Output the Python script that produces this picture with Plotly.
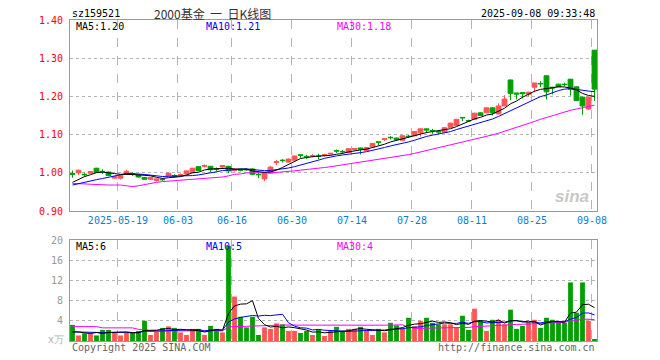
import plotly.graph_objects as go
import pandas as pd

# ---------------- data ----------------
dates = [
    "2025-05-07", "2025-05-08", "2025-05-09", "2025-05-12", "2025-05-13", "2025-05-14",
    "2025-05-15", "2025-05-16", "2025-05-19", "2025-05-20", "2025-05-21", "2025-05-22",
    "2025-05-23", "2025-05-26", "2025-05-27", "2025-05-28", "2025-05-29", "2025-05-30",
    "2025-06-03", "2025-06-04", "2025-06-05", "2025-06-06", "2025-06-09", "2025-06-10",
    "2025-06-11", "2025-06-12", "2025-06-13", "2025-06-16", "2025-06-17", "2025-06-18",
    "2025-06-19", "2025-06-20", "2025-06-23", "2025-06-24", "2025-06-25", "2025-06-26",
    "2025-06-27", "2025-06-30", "2025-07-01", "2025-07-02", "2025-07-03", "2025-07-04",
    "2025-07-07", "2025-07-08", "2025-07-09", "2025-07-10", "2025-07-11", "2025-07-14",
    "2025-07-15", "2025-07-16", "2025-07-17", "2025-07-18", "2025-07-21", "2025-07-22",
    "2025-07-23", "2025-07-24", "2025-07-25", "2025-07-28", "2025-07-29", "2025-07-30",
    "2025-07-31", "2025-08-01", "2025-08-04", "2025-08-05", "2025-08-06", "2025-08-07",
    "2025-08-08", "2025-08-11", "2025-08-12", "2025-08-13", "2025-08-14", "2025-08-15",
    "2025-08-18", "2025-08-19", "2025-08-20", "2025-08-21", "2025-08-22", "2025-08-25",
    "2025-08-26", "2025-08-27", "2025-08-28", "2025-08-29", "2025-09-01", "2025-09-02",
    "2025-09-03", "2025-09-04", "2025-09-05", "2025-09-08",
]

open_ = [
    0.998, 1.000, 0.996, 0.999, 1.012, 1.004, 1.002, 0.986, 0.986, 0.998,
    0.998, 0.994, 0.988, 0.983, 0.980, 0.983, 0.992, 0.993, 0.994, 0.997,
    1.000, 1.016, 1.017, 1.017, 1.010, 1.015, 1.017, 1.006, 1.008, 1.009,
    1.010, 0.996, 0.984, 0.999, 1.027, 1.033, 1.028, 1.033, 1.047, 1.043,
    1.044, 1.044, 1.046, 1.049, 1.058, 1.056, 1.053, 1.061, 1.065, 1.058,
    1.068, 1.081, 1.087, 1.093, 1.091, 1.085, 1.096, 1.097, 1.104, 1.115,
    1.111, 1.108, 1.106, 1.119, 1.124, 1.145, 1.137, 1.140, 1.157, 1.157,
    1.170, 1.154, 1.175, 1.243, 1.209, 1.210, 1.206, 1.224, 1.234, 1.254,
    1.224, 1.232, 1.232, 1.245, 1.225, 1.198, 1.167, 1.321,
]
high = [
    1.006, 1.008, 1.000, 1.004, 1.013, 1.009, 1.003, 0.991, 0.994, 1.008,
    1.001, 0.995, 0.989, 0.989, 0.985, 0.986, 1.000, 0.996, 0.998, 1.006,
    1.013, 1.017, 1.022, 1.018, 1.014, 1.020, 1.018, 1.012, 1.010, 1.011,
    1.012, 1.000, 1.000, 1.018, 1.034, 1.036, 1.037, 1.045, 1.047, 1.047,
    1.049, 1.050, 1.050, 1.052, 1.061, 1.060, 1.064, 1.063, 1.066, 1.067,
    1.078, 1.081, 1.089, 1.096, 1.092, 1.098, 1.099, 1.109, 1.116, 1.116,
    1.115, 1.108, 1.119, 1.131, 1.141, 1.146, 1.139, 1.157, 1.158, 1.171,
    1.172, 1.182, 1.203, 1.244, 1.209, 1.211, 1.212, 1.236, 1.240, 1.255,
    1.225, 1.233, 1.236, 1.246, 1.226, 1.199, 1.199, 1.322,
]
low = [
    0.987, 0.994, 0.990, 0.998, 1.000, 0.997, 0.991, 0.985, 0.982, 0.997,
    0.992, 0.987, 0.982, 0.981, 0.977, 0.979, 0.991, 0.988, 0.991, 0.996,
    0.999, 1.004, 1.014, 1.001, 1.004, 1.013, 0.999, 1.003, 1.004, 1.005,
    0.994, 0.986, 0.978, 0.997, 1.020, 1.027, 1.027, 1.032, 1.039, 1.036,
    1.041, 1.035, 1.042, 1.047, 1.052, 1.050, 1.052, 1.058, 1.048, 1.057,
    1.067, 1.072, 1.083, 1.087, 1.085, 1.084, 1.091, 1.096, 1.095, 1.104,
    1.102, 1.102, 1.105, 1.118, 1.123, 1.135, 1.133, 1.139, 1.149, 1.156,
    1.150, 1.153, 1.174, 1.190, 1.192, 1.195, 1.200, 1.211, 1.224, 1.192,
    1.205, 1.224, 1.226, 1.202, 1.188, 1.152, 1.164, 1.188,
]
close = [
    0.996, 1.007, 0.995, 1.003, 1.001, 1.003, 0.993, 0.990, 0.993, 1.004,
    0.997, 0.989, 0.983, 0.988, 0.984, 0.982, 0.999, 0.990, 0.995, 1.005,
    1.012, 1.006, 1.019, 1.008, 1.009, 1.019, 1.005, 1.009, 1.007, 1.008,
    0.996, 0.995, 0.999, 1.015, 1.029, 1.032, 1.036, 1.044, 1.046, 1.042,
    1.045, 1.043, 1.047, 1.051, 1.057, 1.055, 1.063, 1.063, 1.062, 1.066,
    1.077, 1.080, 1.089, 1.092, 1.087, 1.097, 1.095, 1.108, 1.115, 1.112,
    1.110, 1.107, 1.118, 1.130, 1.140, 1.144, 1.136, 1.156, 1.150, 1.170,
    1.157, 1.175, 1.193, 1.208, 1.206, 1.207, 1.211, 1.235, 1.233, 1.212,
    1.222, 1.225, 1.231, 1.219, 1.189, 1.175, 1.198, 1.219,
]
volume = [  # 万
    3.2, 1.1, 1.5, 1.5, 1.1, 2.2, 2.2, 1.7, 1.1, 1.7,
    1.7, 2.0, 4.0, 1.2, 1.8, 2.6, 2.9, 2.6, 1.7, 1.2,
    2.4, 2.4, 1.2, 3.0, 2.4, 1.7, 18.8, 8.8, 4.8, 2.7,
    4.8, 1.2, 2.7, 2.4, 3.5, 3.3, 2.0, 2.0, 1.6, 2.0,
    1.2, 2.3, 1.0, 2.0, 2.8, 1.9, 2.4, 2.4, 2.8, 2.1,
    1.2, 2.4, 1.7, 3.6, 3.1, 2.5, 4.6, 2.9, 4.0, 4.6,
    3.6, 3.3, 3.3, 3.3, 2.7, 5.0, 2.2, 6.4, 4.0, 2.0,
    4.2, 4.2, 3.3, 6.2, 2.4, 3.0, 3.6, 4.2, 2.6, 4.6,
    4.2, 3.6, 3.6, 11.6, 5.6, 11.6, 4.0, 0.2,
]

# moving-average values at the start of the window (need sessions before the
# first visible day)
price_ma5_head = [0.975, 0.983, 0.990, 0.995]
price_ma10_head = [0.968, 0.972, 0.976, 0.979, 0.982, 0.985, 0.989, 0.993, 0.995]
price_ma30_head = [
    0.972, 0.972, 0.971, 0.970, 0.969, 0.968, 0.968, 0.968, 0.968, 0.966,
    0.964, 0.966, 0.969, 0.973, 0.975, 0.977, 0.978, 0.979, 0.980, 0.981,
    0.982, 0.983, 0.984, 0.986, 0.988, 0.989, 0.992, 0.996, 0.997,
]
vol_ma5_head = [1.8, 1.8, 1.6, 1.5]
vol_ma10_head = [1.8, 1.75, 1.7, 1.7, 1.65, 1.65, 1.65, 1.7, 1.7]
vol_ma30_head = [
    2.85, 2.85, 2.85, 2.85, 2.85, 2.6, 2.6, 2.6, 2.6, 2.6,
    2.6, 2.3, 2.3, 2.0, 2.0, 2.0, 2.0, 2.0, 2.0, 2.0,
    2.0, 2.0, 2.0, 2.0, 2.0, 2.0, 2.8, 2.8, 2.8,
]

tick_dates = ["2025-05-19", "2025-06-03", "2025-06-16", "2025-06-30", "2025-07-14",
              "2025-07-28", "2025-08-11", "2025-08-25", "2025-09-08"]
tick_labels = ["2025-05-19", "06-03", "06-16", "06-30", "07-14",
               "07-28", "08-11", "08-25", "09-08"]
price_ticks = [0.90, 1.00, 1.10, 1.20, 1.30, 1.40]
vol_ticks = [4, 8, 12, 16, 20]


def moving_average(values, n, head):
    s = pd.Series(values).rolling(n).mean().tolist()
    return list(head) + s[len(head):]


ma5 = moving_average(close, 5, price_ma5_head)
ma10 = moving_average(close, 10, price_ma10_head)
ma30 = moving_average(close, 30, price_ma30_head)
vma5 = moving_average(volume, 5, vol_ma5_head)
vma10 = moving_average(volume, 10, vol_ma10_head)
vma30 = moving_average(volume, 30, vol_ma30_head)

# ---------------- styling ----------------
RED = "#ff5555"
GREEN = "#00a000"
MONO = "DejaVu Sans Mono"
W, H = 660, 360
L, R, T, B = 70, 597, 20, 341   # plot box in pixels
P_BOTTOM, V_TOP = 211, 240


def fx(px):
    return (px - L) / (R - L)


def fy(py):
    return (B - py) / (B - T)


idx = list(range(len(dates)))
bar_colors = [RED if c >= o else GREEN for o, c in zip(open_, close)]
tickvals = [dates.index(d) - 0.42 for d in tick_dates]

fig = go.Figure()
fig.add_trace(go.Candlestick(
    x=idx, open=open_, high=high, low=low, close=close,
    increasing=dict(line=dict(color=RED, width=1), fillcolor=RED),
    decreasing=dict(line=dict(color=GREEN, width=1), fillcolor=GREEN),
    whiskerwidth=0, hovertext=dates, xaxis="x", yaxis="y", showlegend=False,
))
for ys, col in [(ma30, "#ff00ff"), (ma10, "#0000ff"), (ma5, "#000000")]:
    fig.add_trace(go.Scatter(x=idx, y=ys, mode="lines", line=dict(color=col, width=1),
                             xaxis="x", yaxis="y", showlegend=False, hoverinfo="skip"))

fig.add_trace(go.Bar(x=idx, y=volume, marker=dict(color=bar_colors, line=dict(width=0)),
                     width=0.8, xaxis="x2", yaxis="y2", showlegend=False, hovertext=dates))
for ys, col in [(vma30, "#ff00ff"), (vma10, "#0000ff"), (vma5, "#000000")]:
    fig.add_trace(go.Scatter(x=idx, y=ys, mode="lines", line=dict(color=col, width=1),
                             xaxis="x2", yaxis="y2", showlegend=False, hoverinfo="skip"))

xrange = [-0.4167, len(dates) - 1 + 0.4167]
common_x = dict(range=xrange, tickvals=tickvals, showgrid=True, gridcolor="#b4b4b4",
                griddash="dash", gridwidth=1, zeroline=False, showline=True,
                linecolor="#999999", linewidth=1, mirror=True, ticks="",
                fixedrange=True)
common_y = dict(showgrid=True, gridcolor="#b4b4b4", griddash="dot", gridwidth=1,
                zeroline=False, showline=True, linecolor="#999999", linewidth=1,
                mirror=True, ticks="", ticklabelstandoff=4, fixedrange=True)

fig.update_layout(
    width=W, height=H,
    margin=dict(l=L, r=W - R, t=T, b=H - B, pad=0),
    paper_bgcolor="white", plot_bgcolor="white",
    boxgap=0.2, boxgroupgap=0,
    xaxis=dict(**common_x, anchor="y", ticktext=tick_labels, showticklabels=True,
               tickfont=dict(family=MONO, size=10, color="#0a7fd0"),
               rangeslider=dict(visible=False)),
    xaxis2=dict(**common_x, anchor="y2", matches="x", showticklabels=False),
    yaxis=dict(**common_y, domain=[fy(P_BOTTOM), 1], range=[0.90, 1.40],
               tickvals=price_ticks, tickformat=".2f",
               tickfont=dict(family=MONO, size=10, color="#ff0000")),
    yaxis2=dict(**common_y, domain=[0, fy(V_TOP)], range=[0, 20], tickvals=vol_ticks,
                tickfont=dict(family=MONO, size=10, color="#999999")),
)


def text(px, py, s, color="#000000", size=10, family=MONO, anchor="left"):
    fig.add_annotation(x=fx(px), y=fy(py), xref="paper", yref="paper", text=s,
                       showarrow=False, xanchor=anchor, yanchor="middle",
                       font=dict(family=family, size=size, color=color))


text(70, 13, "sz159521")
text(212, 13, "2000基金\u00a0\u00a0一\u00a0\u00a0日K线图", color="#333333", size=12,
     family="Noto Sans CJK SC", anchor="center")
text(597, 13, "2025-09-08 09:33:48", anchor="right")
text(74, 26, f"MA5:{ma5[-1]:.2f}")
text(204, 26, f"MA10:{ma10[-1]:.2f}", color="#0000ff")
text(334.5, 26, f"MA30:{ma30[-1]:.2f}", color="#ff00ff")
text(74, 246, f"MA5:{int(vma5[-1])}")
text(204, 246, f"MA10:{int(vma10[-1])}", color="#0000ff")
text(334.5, 246, f"MA30:{int(vma30[-1])}", color="#ff00ff")
text(66, 339, "x万", color="#b0b0b0", anchor="right")
text(70, 347, "Copyright 2025 SINA.COM", color="#666666")
text(597, 347, "http://finance.sina.com.cn", color="#666666", anchor="right")
text(572, 196, "<b><i>sina</i></b>", color="#c8c8c8", size=17, family="Liberation Sans",
     anchor="center")

fig.write_html("out.html", config={"displayModeBar": False},
               post_script="document.body.style.margin='0';")
